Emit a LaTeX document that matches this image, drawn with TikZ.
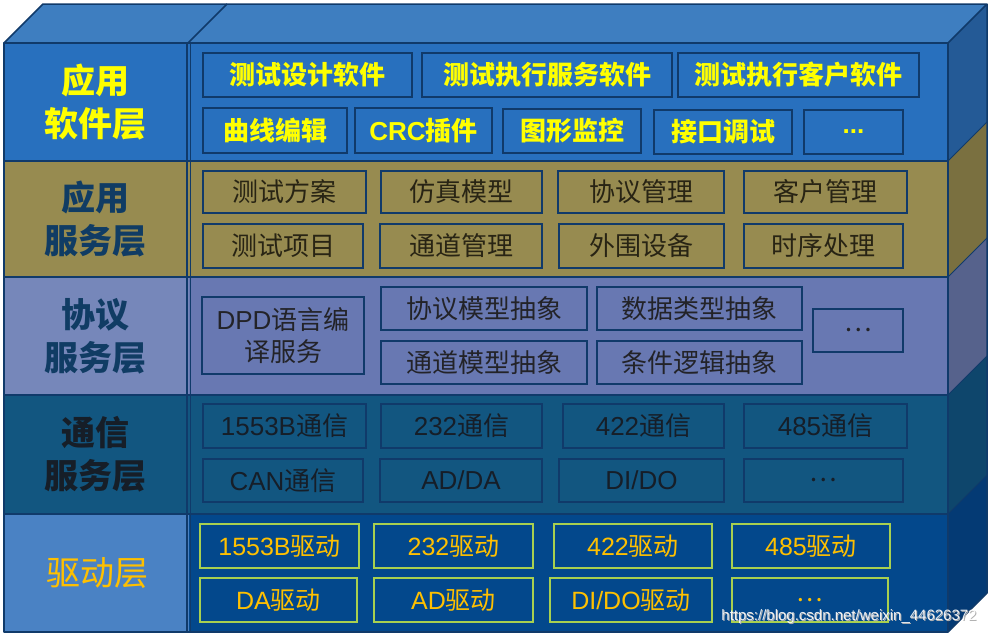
\documentclass[tikz,border=0pt]{standalone}
\usepackage{fontspec}
\setmainfont{Noto Sans CJK SC}
\newfontfamily\wmfont{Liberation Sans}
\newfontfamily\lat{Liberation Sans}
\definecolor{outl}{RGB}{16,58,106}
\definecolor{topc}{RGB}{62,126,192}
\definecolor{fA}{RGB}{40,112,190}
\definecolor{sA}{RGB}{36,90,150}
\definecolor{fB}{RGB}{151,139,80}
\definecolor{sB}{RGB}{122,112,64}
\definecolor{lC}{RGB}{118,135,186}
\definecolor{fC}{RGB}{104,120,178}
\definecolor{sC}{RGB}{86,98,140}
\definecolor{fD}{RGB}{18,86,128}
\definecolor{sD}{RGB}{14,70,108}
\definecolor{lE}{RGB}{74,130,196}
\definecolor{fE}{RGB}{3,72,140}
\definecolor{sE}{RGB}{4,58,116}
\definecolor{yel}{RGB}{255,255,0}
\definecolor{org}{RGB}{255,192,0}
\definecolor{navy}{RGB}{16,60,100}
\definecolor{txtB}{RGB}{40,36,20}
\definecolor{txtC}{RGB}{35,35,40}
\definecolor{txtD}{RGB}{22,30,40}
\definecolor{grn}{RGB}{168,208,80}
\newcommand\bx[7]{\node[#7, minimum width={(#4-#2)*1pt}, minimum height={(#5-#3)*1pt}] (#1) at ({(#2+#4)/2},{(#3+#5)/2}) {#6};}
\tikzset{
  box/.style={draw=outl, line width=1.2pt, inner sep=0pt, align=center},
  boxA/.style={box, text=yel, font=\bfseries\fontsize{26}{30}\selectfont},
  boxB/.style={box, text=txtB, font=\fontsize{26}{30}\selectfont},
  boxC/.style={box, text=txtC, font=\fontsize{26}{32}\selectfont},
  boxD/.style={box, text=txtD, font=\fontsize{26}{30}\selectfont},
  boxE/.style={box, draw=grn, text=org, font=\fontsize{25}{30}\selectfont},
  lab/.style={align=center, inner sep=0pt, font=\bfseries\fontsize{34}{43}\selectfont},
  edge/.style={draw=outl, line width=1.5pt, line join=round},
}
\begin{document}
\begin{tikzpicture}[x=1pt,y=-1pt]
\useasboundingbox (0,0) rectangle (994,635);
\fill[white] (0,0) rectangle (994,635);
% top face
\fill[topc] (4,43) -- (43,4) -- (987,4) -- (948,43) -- cycle;
% side faces
\fill[sA] (948,43) -- (987,4) -- (987,122) -- (948,161) -- cycle;
\fill[sB] (948,161) -- (987,122) -- (987,238) -- (948,277) -- cycle;
\fill[sC] (948,277) -- (987,238) -- (987,356) -- (948,395) -- cycle;
\fill[sD] (948,395) -- (987,356) -- (987,475) -- (948,514) -- cycle;
\fill[sE] (948,514) -- (987,475) -- (987,593) -- (948,632) -- cycle;
% front faces
\fill[fA] (4,43) rectangle (948,161);
\fill[fB] (4,161) rectangle (948,277);
\fill[lC] (4,277) rectangle (189,395);
\fill[fC] (189,277) rectangle (948,395);
\fill[fD] (4,395) rectangle (948,514);
\fill[lE] (4,514) rectangle (189,632);
\fill[fE] (189,514) rectangle (948,632);
% edges
\draw[edge] (4,43) -- (43,4) -- (987,4) -- (948,43);
\draw[edge] (188,43) -- (227,4);
\draw[edge] (987,4) -- (987,593) -- (948,632);
\foreach \a/\b in {161/122,277/238,395/356,514/475}{
  \draw[outl, line width=1pt] (948,\a) -- (987,\b);
  \draw[edge] (4,\a) -- (948,\a);
}
\draw[edge] (4,43) rectangle (948,632);
\draw[outl, line width=1.2pt] (187,43) -- (187,632);
\draw[outl, line width=1.2pt] (190.5,43) -- (190.5,632);
% labels
\node[lab, text=yel] (l1) at (96,102) {应用\\软件层};
\node[lab, text=navy] (l2) at (96,219) {应用\\服务层};
\node[lab, text=navy] (l3) at (96,336) {协议\\服务层};
\node[lab, text=txtD] (l4) at (96,454) {通信\\服务层};
\node[lab, text=org, font=\fontsize{34}{43}\selectfont] (l5) at (97,573) {驱动层};
% layer 1
\bx{a1}{203}{53}{412}{97}{测试设计软件}{boxA}
\bx{a2}{422}{53}{672}{97}{测试执行服务软件}{boxA}
\bx{a3}{678}{53}{919}{97}{测试执行客户软件}{boxA}
\bx{a4}{203}{108}{347}{153}{曲线编辑}{boxA}
\bx{a5}{355}{108}{492}{153}{{\lat CRC}插件}{boxA}
\bx{a6}{503}{109}{641}{153}{图形监控}{boxA}
\bx{a7}{654}{110}{792}{154}{接口调试}{boxA}
\bx{a8}{804}{110}{903}{154}{{\lat ...}}{boxA}
% layer 2
\bx{b1}{203}{171}{366}{213}{测试方案}{boxB}
\bx{b2}{381}{171}{542}{213}{仿真模型}{boxB}
\bx{b3}{558}{171}{724}{213}{协议管理}{boxB}
\bx{b4}{744}{171}{907}{213}{客户管理}{boxB}
\bx{b5}{203}{224}{363}{268}{测试项目}{boxB}
\bx{b6}{380}{224}{542}{268}{通道管理}{boxB}
\bx{b7}{559}{224}{724}{268}{外围设备}{boxB}
\bx{b8}{744}{224}{903}{268}{时序处理}{boxB}
% layer 3
\bx{c1}{202}{297}{364}{374}{{\lat DPD}语言编\\译服务}{boxC}
\bx{c2}{381}{287}{587}{330}{协议模型抽象}{boxC}
\bx{c3}{381}{341}{587}{384}{通道模型抽象}{boxC}
\bx{c4}{597}{287}{802}{330}{数据类型抽象}{boxC}
\bx{c5}{597}{341}{802}{384}{条件逻辑抽象}{boxC}
\bx{c6}{813}{309}{903}{352}{…}{boxC}
% layer 4
\bx{d1}{203}{404}{366}{448}{{\lat 1553B}通信}{boxD}
\bx{d2}{381}{404}{542}{448}{{\lat 232}通信}{boxD}
\bx{d3}{563}{404}{724}{448}{{\lat 422}通信}{boxD}
\bx{d4}{744}{404}{907}{448}{{\lat 485}通信}{boxD}
\bx{d5}{203}{459}{363}{502}{{\lat CAN}通信}{boxD}
\bx{d6}{380}{459}{542}{502}{{\lat AD/DA}}{boxD}
\bx{d7}{559}{459}{724}{502}{{\lat DI/DO}}{boxD}
\bx{d8}{744}{459}{903}{502}{…}{boxD}
% layer 5
\bx{e1}{200}{524}{359}{568}{{\lat 1553B}驱动}{boxE}
\bx{e2}{374}{524}{533}{568}{{\lat 232}驱动}{boxE}
\bx{e3}{554}{524}{712}{568}{{\lat 422}驱动}{boxE}
\bx{e4}{732}{524}{890}{568}{{\lat 485}驱动}{boxE}
\bx{e5}{200}{578}{357}{622}{{\lat DA}驱动}{boxE}
\bx{e6}{374}{578}{533}{622}{{\lat AD}驱动}{boxE}
\bx{e7}{550}{578}{712}{622}{{\lat DI/DO}驱动}{boxE}
\bx{e8}{732}{578}{888}{622}{…}{boxE}
% watermark
\node[text=gray!60, font=\wmfont\fontsize{15}{15}\selectfont, inner sep=0pt] at (850,617.6) {https://blog.csdn.net/weixin\_44626372};
\node[text=white, opacity=0.9, font=\wmfont\fontsize{15}{15}\selectfont, inner sep=0pt] (wm) at (849,617) {https://blog.csdn.net/weixin\_44626372};
\end{tikzpicture}
\end{document}
